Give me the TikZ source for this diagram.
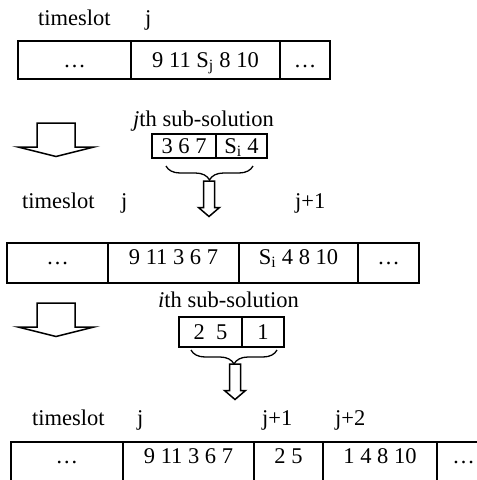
\documentclass[tikz,border=0pt]{standalone}
\usepackage{fontspec}
\setmainfont{Liberation Serif}
\usetikzlibrary{decorations.pathreplacing}

\tikzset{
	cell/.style={draw, line width=1.8pt, inner sep=0pt, minimum height=38pt, text height=15pt, text depth=0pt},
	lowcell/.style={cell, minimum height=40pt, text depth=12pt},
	subcell/.style={draw, line width=1.4pt, inner sep=0pt, text height=15pt, text depth=0pt},
	tag/.style={anchor=base west, inner sep=0pt},
	brace/.style={decorate, decoration={brace, mirror, amplitude=14pt}, line width=1.3pt},
	bigdown/.pic={\draw[line width=1.5pt] (-19,0) -- (-19,24) -- (-38,24) -- (0,33.5) -- (38,24) -- (19,24) -- (19,0) -- cycle;},
	smalldown/.pic={\draw[line width=1.5pt] (-5.5,0) -- (-5.5,26.5) -- (-10.5,26.5) -- (0,35.5) -- (10.5,26.5) -- (5.5,26.5) -- (5.5,0) -- cycle;},
}

\begin{document}
\begin{tikzpicture}[x=1pt, y=-1pt, every node/.append style={font=\fontsize{22.5}{27}\selectfont}]
				\useasboundingbox (0,0) rectangle (477,480);
				\node[tag] (ts1) at (38,25) {timeslot};
				\node[tag] (j1) at (145,25) {j};
				\node[cell, minimum width=113pt] (r1a) at (74.5,60) {\dots};
				\node[cell, minimum width=149pt] (r1b) at (205.5,60) {9 11 S\textsubscript{j} 8 10};
				\node[cell, minimum width=50pt] (r1c) at (305,60) {\dots};
				\pic at (56,123) {bigdown};
				\node[tag] (sub1) at (133,126) {\textit{j}th sub-solution};
				\node[subcell, minimum height=24pt, minimum width=64pt] (s1a) at (184,146) {3 6 7};
				\node[subcell, minimum height=24pt, minimum width=51pt] (s1b) at (241.5,146) {S\textsubscript{i} 4};
				\draw[brace] (166,166) -- (253,166);
				\coordinate (t1) at (209,181);
				\pic at (t1) {smalldown};
				\node[tag] (ts2) at (22,208) {timeslot};
				\node[tag] (j2) at (121,208) {j};
				\node[tag] (j2b) at (295,208) {j+1};
				\node[lowcell, minimum width=101pt] (r2a) at (57.5,263) {\dots};
				\node[lowcell, minimum width=131pt] (r2b) at (173.5,263) {9 11 3 6 7};
				\node[lowcell, minimum width=119pt] (r2c) at (298.5,263) {S\textsubscript{i} 4 8 10};
				\node[lowcell, minimum width=61pt] (r2d) at (388.5,263) {\dots};
				\pic at (56,303) {bigdown};
				\node[tag] (sub2) at (158,307) {\textit{i}th sub-solution};
				\node[subcell, minimum height=30pt, minimum width=63pt] (s2a) at (210.5,332) {2\enspace 5};
				\node[subcell, minimum height=30pt, minimum width=42pt] (s2b) at (263,332) {1};
				\draw[brace] (191,350) -- (277,350);
				\coordinate (t2) at (235,364);
				\pic at (t2) {smalldown};
				\node[tag] (ts3) at (32,425) {timeslot};
				\node[tag] (j3) at (137,425) {j};
				\node[tag] (j3b) at (262,425) {j+1};
				\node[tag] (j3c) at (335,425) {j+2};
				\node[lowcell, minimum width=112pt] (r3a) at (67,462) {\dots};
				\node[lowcell, minimum width=131pt] (r3b) at (188.5,462) {9 11 3 6 7};
				\node[lowcell, minimum width=69pt] (r3c) at (288.5,462) {2 5};
				\node[lowcell, minimum width=114pt] (r3d) at (380,462) {1 4 8 10};
				\node[lowcell, minimum width=53pt] (r3e) at (463.5,462) {\dots};
			\end{tikzpicture}
\end{document}
